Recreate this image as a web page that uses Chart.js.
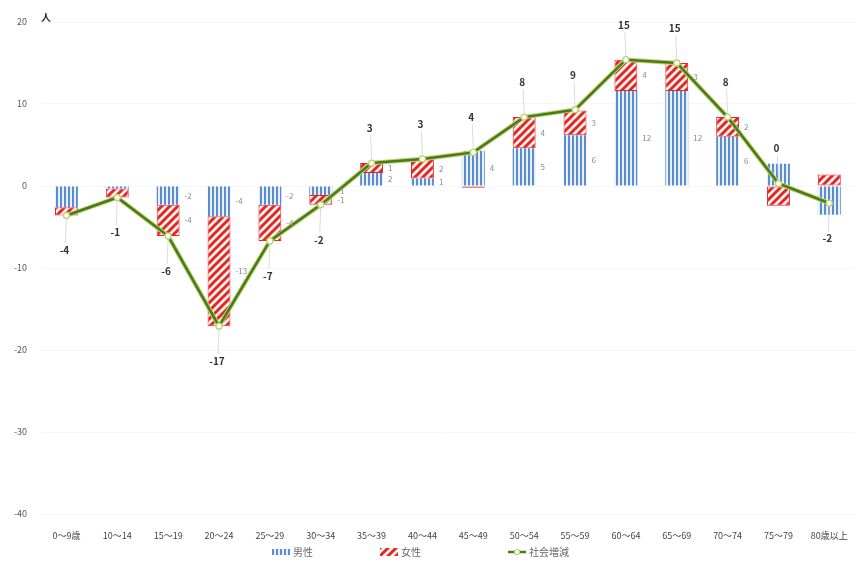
<!DOCTYPE html>
<html>
<head>
<meta charset="utf-8">
<script src="https://cdn.jsdelivr.net/npm/chart.js@4/dist/chart.umd.min.js"></script>
<style>
  html, body { margin: 0; padding: 0; background: #fff; }
  #wrap { width: 864px; height: 563px; position: relative; }
</style>
</head>
<body>
<div id="wrap"><canvas id="c"></canvas></div>
<script>
// 年齢階級別 社会増減（人）
const categories = ['0～9歳', '10～14', '15～19', '20～24', '25～29', '30～34', '35～39', '40～44',
                    '45～49', '50～54', '55～59', '60～64', '65～69', '70～74', '75～79', '80歳以上'];
const male   = [-2.6, -0.3, -2.3, -3.7, -2.3, -1.1, 1.6, 0.9, 4.3, 4.6, 6.2, 11.6, 11.6, 6.0, 2.7, -3.5];
const female = [-1.0, -1.1, -3.8, -13.4, -4.4, -1.2, 1.2, 2.4, -0.2, 3.8, 3.0, 3.8, 3.4, 2.4, -2.4, 1.4];
const total  = [-3.6, -1.4, -6.1, -17.1, -6.7, -2.3, 2.8, 3.3, 4.1, 8.4, 9.3, 15.4, 15.0, 8.4, 0.3, -2.1];
const seriesNames = ['男性', '女性', '社会増減'];
const unitLabel = '人';

const FONT = '"Noto Sans CJK JP", "Noto Sans", sans-serif';

// vertical blue stripes
function stripePattern() {
  const t = document.createElement('canvas');
  t.width = 4; t.height = 10;
  const g = t.getContext('2d');
  g.fillStyle = '#e9f0fa';
  g.fillRect(0, 0, 4, 10);
  g.fillStyle = '#5a8dcf';
  g.fillRect(0, 0, 2, 10);
  return g.createPattern(t, 'repeat');
}
// red diagonal hatching
function hatchPattern() {
  const s = 8;
  const t = document.createElement('canvas');
  t.width = s; t.height = s;
  const g = t.getContext('2d');
  g.fillStyle = '#fff6ea';
  g.fillRect(0, 0, s, s);
  g.strokeStyle = '#e2262c';
  g.lineWidth = 3;
  g.beginPath();
  g.moveTo(-1, s + 1); g.lineTo(s + 1, -1);
  g.moveTo(-2, 2); g.lineTo(2, -2);
  g.moveTo(s - 2, s + 2); g.lineTo(s + 2, s - 2);
  g.stroke();
  return g.createPattern(t, 'repeat');
}
const maleFill = stripePattern();
const femaleFill = hatchPattern();
const lineColor = '#4b7a1c';
const haloColor = '#bcd36e';

// value labels: segment values beside the bars, totals with leader lines
const labelPlugin = {
  id: 'valueLabels',
  afterDatasetsDraw(chart) {
    const ctx = chart.ctx;
    ctx.save();
    // segment labels
    ctx.font = '8px ' + FONT;
    ctx.fillStyle = '#8a8a8a';
    ctx.textAlign = 'left';
    ctx.textBaseline = 'middle';
    [0, 1].forEach(di => {
      const meta = chart.getDatasetMeta(di);
      const vals = chart.data.datasets[di].data;
      meta.data.forEach((bar, i) => {
        if (i < 2 || i > 13) return;
        const v = vals[i];
        if (Math.abs(v) < 0.5) return;
        const cy = (bar.y + bar.base) / 2;
        ctx.fillText(String(Math.round(v)), bar.x + bar.width / 2 + 5, cy);
      });
    });
    // totals
    const lm = chart.getDatasetMeta(2);
    ctx.font = 'bold 10px ' + FONT;
    ctx.fillStyle = '#333';
    ctx.textAlign = 'center';
    lm.data.forEach((pt, i) => {
      const v = total[i];
      const dir = v >= 0 ? -1 : 1;
      const ly = pt.y + dir * 35;
      ctx.strokeStyle = '#d2d2d2';
      ctx.lineWidth = 0.8;
      ctx.beginPath();
      ctx.moveTo(pt.x, pt.y + dir * 3);
      ctx.lineTo(pt.x - 1, ly - dir * 7);
      ctx.stroke();
      ctx.fillText(String(Math.round(v)), pt.x - 2, ly);
    });
    ctx.restore();
  },
  afterDraw(chart) {
    const ctx = chart.ctx;
    const ca = chart.chartArea;
    ctx.save();
    // unit
    ctx.font = 'bold 10px ' + FONT;
    ctx.fillStyle = '#333';
    ctx.textAlign = 'left';
    ctx.textBaseline = 'middle';
    ctx.fillText(unitLabel, ca.left, ca.top - 5);
    // legend
    const y = 552;
    const cx = chart.width / 2;
    ctx.font = '10px ' + FONT;
    const items = [
      { x: cx - 160, kind: 'male' },
      { x: cx - 52, kind: 'female' },
      { x: cx + 76, kind: 'line' }
    ];
    items.forEach((it, k) => {
      if (it.kind === 'male') {
        ctx.fillStyle = maleFill;
        ctx.fillRect(it.x, y - 3, 18, 6);
      } else if (it.kind === 'female') {
        ctx.fillStyle = femaleFill;
        ctx.fillRect(it.x, y - 4, 18, 8);
      } else {
        ctx.strokeStyle = lineColor;
        ctx.lineWidth = 2.5;
        ctx.beginPath();
        ctx.moveTo(it.x, y); ctx.lineTo(it.x + 18, y);
        ctx.stroke();
        ctx.fillStyle = '#fff';
        ctx.strokeStyle = haloColor;
        ctx.lineWidth = 1.2;
        ctx.beginPath();
        ctx.arc(it.x + 9, y, 2.5, 0, Math.PI * 2);
        ctx.fill(); ctx.stroke();
      }
      ctx.fillStyle = '#666';
      ctx.fillText(seriesNames[k], it.x + 21, y);
    });
    ctx.restore();
  }
};

new Chart(document.getElementById('c'), {
  data: {
    labels: categories,
    datasets: [
      {
        type: 'bar', label: seriesNames[0], data: male, stack: 'gender', order: 2,
        backgroundColor: maleFill, borderWidth: 0,
        barPercentage: 0.9, categoryPercentage: 0.5
      },
      {
        type: 'bar', label: seriesNames[1], data: female, stack: 'gender', order: 2,
        backgroundColor: femaleFill, borderColor: '#e2262c', borderWidth: 1, borderSkipped: false,
        barPercentage: 0.9, categoryPercentage: 0.5
      },
      {
        type: 'line', label: seriesNames[2], data: total, stack: 'total', order: 0,
        borderColor: lineColor, borderWidth: 2.5, tension: 0,
        pointRadius: 3, pointBackgroundColor: '#fff', pointBorderColor: haloColor, pointBorderWidth: 1.3
      },
      {
        type: 'line', label: '', data: total, stack: 'halo', order: 1,
        borderColor: haloColor, borderWidth: 4.5, tension: 0, pointRadius: 0
      }
    ]
  },
  options: {
    responsive: true,
    maintainAspectRatio: false,
    animation: false,
    layout: { padding: { top: 22, bottom: 19, left: 0, right: 2 } },
    plugins: { legend: { display: false }, tooltip: { enabled: false } },
    scales: {
      x: {
        stacked: true,
        grid: { display: false, drawTicks: false },
        border: { display: false },
        ticks: { font: { family: FONT, size: 9 }, color: '#444', autoSkip: false, maxRotation: 0, padding: 16 },
        afterFit(scale) { scale.height = 30; }
      },
      y: {
        stacked: true,
        min: -40, max: 20,
        grid: { color: '#f6f6f6', drawTicks: false },
        border: { display: false },
        ticks: { stepSize: 10, font: { family: FONT, size: 9 }, color: '#555', padding: 14 },
        afterFit(scale) { scale.width = 41; }
      }
    }
  },
  plugins: [labelPlugin]
});
</script>
</body>
</html>
